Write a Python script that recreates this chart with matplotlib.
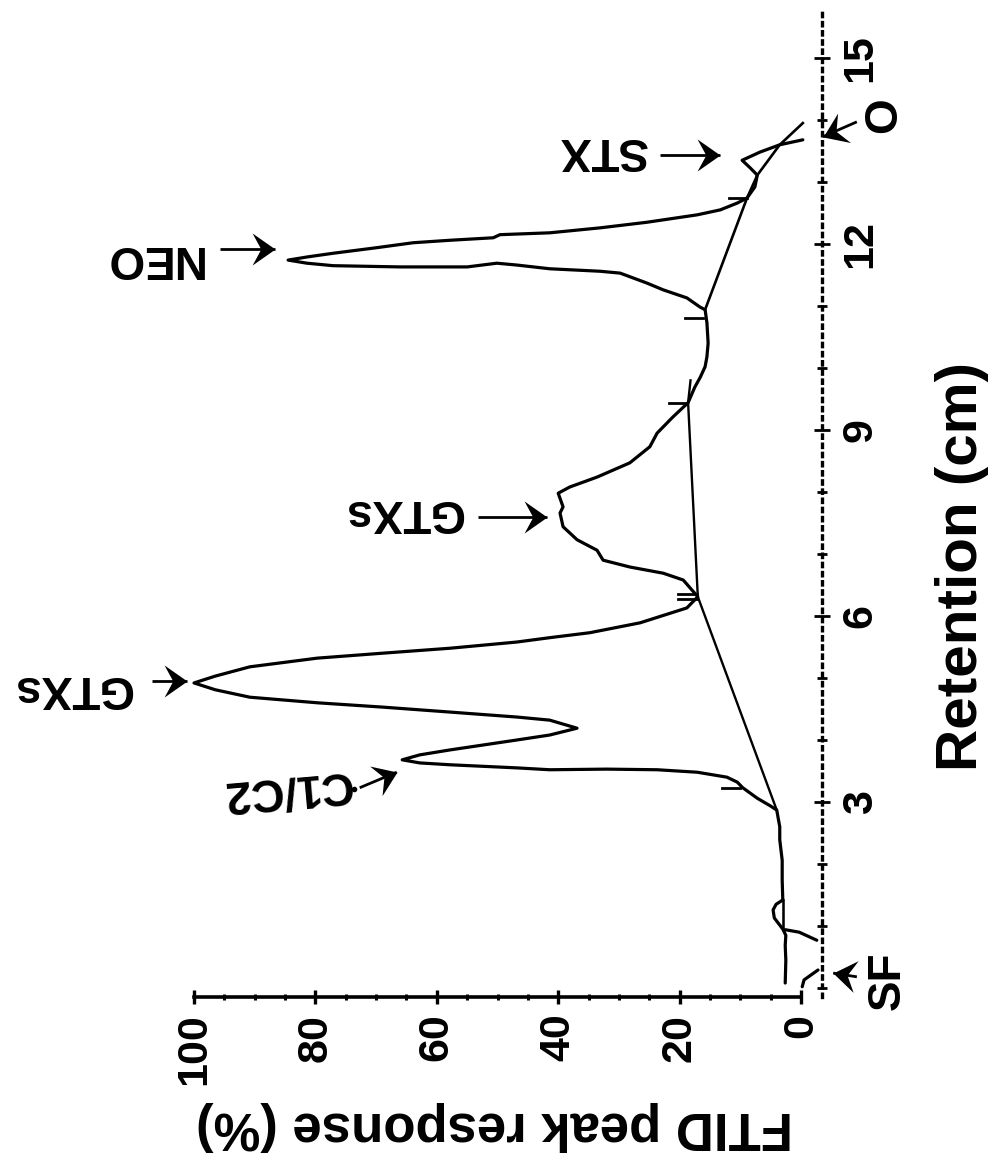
import matplotlib
matplotlib.use("Agg")
import matplotlib.pyplot as plt
from matplotlib.path import Path
from matplotlib.markers import MarkerStyle
from matplotlib.transforms import Affine2D
import numpy as np

plt.rcParams['font.family'] = ['Liberation Sans', 'DejaVu Sans']
plt.rcParams['font.weight'] = 'bold'

# FTID chromatogram trace: retention (cm) vs. peak response (%)
trace_ret = [0.08, 0.45, 0.69, 0.85, 0.95, 1.13, 1.26, 1.35, 1.42, 1.74, 2.06, 2.39,
             2.60, 2.87, 2.94, 3.06, 3.23, 3.32, 3.40, 3.48, 3.52, 3.53, 3.52, 3.55,
             3.60, 3.63, 3.68, 3.76, 3.84, 4.00, 4.08, 4.19, 4.32, 4.37, 4.45, 4.53,
             4.60, 4.69, 4.81, 4.92, 5.03, 5.18, 5.32, 5.40, 5.48, 5.58, 5.65, 5.73,
             5.89, 6.13, 6.31, 6.58, 6.69, 6.79, 6.90, 7.06, 7.23, 7.44, 7.66, 7.76,
             7.98, 8.08, 8.24, 8.47, 8.73, 8.95, 9.21, 9.44, 9.69, 9.85, 10.02, 10.18,
             10.40, 10.73, 10.94, 10.98, 11.13, 11.26, 11.37, 11.53, 11.56, 11.60, 11.66,
             11.69, 11.63, 11.63, 11.65, 11.69, 11.74, 11.79, 11.85, 11.94, 12.02, 12.06,
             12.10, 12.15, 12.18, 12.26, 12.35, 12.47, 12.55, 12.66, 12.74, 12.92, 13.11,
             13.23, 13.35, 13.48, 13.60, 13.68]
trace_resp = [2.6, 2.5, 2.6, 2.5, 3.0, 4.4, 4.6, 4.1, 3.0, 3.1, 3.1, 3.5,
              3.5, 4.0, 5.1, 7.2, 9.6, 10.5, 12.2, 17.1, 23.7, 32.0, 41.4, 46.8,
              57.8, 62.8, 65.7, 62.8, 57.8, 46.8, 41.4, 36.9, 41.4, 46.8, 57.8, 68.9,
              79.7, 90.8, 96.5, 100.0, 96.5, 90.8, 79.7, 68.9, 57.8, 46.8, 41.4, 34.8,
              26.5, 18.8, 17.0, 19.4, 22.7, 28.2, 32.6, 33.6, 36.9, 39.2, 39.7, 39.2,
              40.0, 38.1, 33.6, 28.2, 24.9, 23.7, 21.1, 18.6, 17.5, 16.6, 15.8, 15.5,
              15.3, 15.5, 15.8, 16.6, 18.8, 22.7, 25.4, 29.8, 33.1, 41.4, 46.8,
              50.1, 55.0, 66.1, 77.1, 81.4, 84.5, 81.4, 77.1, 69.9, 63.9, 57.8,
              50.7, 49.6, 41.4, 33.1, 25.4, 17.1, 13.3, 10.5, 8.9, 7.6, 7.2,
              8.4, 9.7, 6.8, 3.5, -0.3]

# solvent-front dip near injection
sf_ret = [0.02, 0.13, 0.20, 0.29]
sf_resp = [-0.2, -0.5, -1.5, -2.8]

# early rise joining the trace
rise_ret = [0.77, 0.90, 0.94]
rise_resp = [-2.6, 0.3, 2.6]

# straight segment under the small early bump
bump_ret = [0.95, 1.42]
bump_resp = [2.9, 2.9]

# integration baselines
base1_ret = [2.87, 6.31, 9.44, 9.80]
base1_resp = [4.0, 17.0, 18.6, 18.2]
base2_ret = [10.94, 12.74, 13.11, 13.60, 13.95]
base2_resp = [15.8, 8.9, 7.2, 3.5, -0.3]

# integration markers: retention and response where each starts
mark_ret = [3.23, 6.28, 6.36, 9.44, 10.80, 12.74]
mark_resp = [10.0, 17.2, 17.2, 18.8, 16.1, 8.9]
mark_len = 3.0

# axis ticks
resp_ticks = [0, 20, 40, 60, 80, 100]
resp_minor = list(range(0, 101, 5))
ret_ticks = [3, 6, 9, 12, 15]
ret_minor = list(range(0, 16))

fig = plt.figure(figsize=(9.93, 11.73), dpi=100)
ax = fig.add_axes([0, 0, 1, 1])
ax.set_xlim(131.96, -31.63)
ax.set_ylim(-2.984, 15.935)
ax.patch.set_alpha(0)

# axes: response axis solid, retention axis dotted
for side in ('top', 'left'):
    ax.spines[side].set_visible(False)
ax.spines['bottom'].set_position(('data', -0.145))
ax.spines['bottom'].set_bounds(0, 100)
ax.spines['bottom'].set_linewidth(2.6)
ax.spines['right'].set_position(('data', -3.45))
ax.spines['right'].set_bounds(-0.15, 15.75)
ax.spines['right'].set_linewidth(2.4)
ax.spines['right'].set_linestyle((0, (1, 1.75)))

ax.xaxis.set_ticks_position('bottom')
ax.set_xticks(resp_ticks)
ax.set_xticks(resp_minor, minor=True)
ax.tick_params(axis='x', which='major', direction='inout', length=10, width=2.4,
               pad=7, labelsize=31, labelrotation=90)
ax.tick_params(axis='x', which='minor', direction='inout', length=5, width=2.2)

ax.yaxis.set_ticks_position('right')
ax.set_yticks(ret_ticks)
ax.set_yticks(ret_minor, minor=True)
ax.tick_params(axis='y', which='major', direction='inout', length=11, width=2.0,
               pad=8, labelsize=31, labelrotation=90)
ax.tick_params(axis='y', which='minor', direction='inout', length=7, width=2.0)
plt.setp(ax.get_yticklabels(), va='center')

# chromatogram
lw = 2.3
ax.plot(trace_resp, trace_ret, color='black', lw=lw, solid_joinstyle='round',
        solid_capstyle='round')
ax.plot(sf_resp, sf_ret, color='black', lw=lw, solid_capstyle='round')
ax.plot(rise_resp, rise_ret, color='black', lw=lw, solid_capstyle='round')
ax.plot(bump_resp, bump_ret, color='black', lw=lw * 0.8)
ax.plot(base1_resp, base1_ret, color='black', lw=1.7)
ax.plot(base2_resp, base2_ret, color='black', lw=1.9)
for r, x in zip(mark_ret, mark_resp):
    ax.plot([x, x + mark_len], [r, r], color='black', lw=2.0)

# axis titles
ax.text(50.5, -2.0, 'FTID peak response (%)', rotation=180, rotation_mode='anchor',
        ha='center', va='baseline', fontsize=38)
ax.text(-29.0, 6.8, 'Retention (cm)', rotation=90, rotation_mode='anchor',
        ha='center', va='baseline', fontsize=42)

# swept-back arrowhead, tip at the origin
head = Path([(0, 0), (-1, 0.7), (-0.62, 0), (-1, -0.7), (0, 0)],
            [Path.MOVETO, Path.LINETO, Path.LINETO, Path.LINETO, Path.CLOSEPOLY])


def arrow(tail, tip, dot=False):
    ax.plot([tail[0], tip[0]], [tail[1], tip[1]], color='black', lw=2.0,
            solid_capstyle='butt')
    p0 = ax.transData.transform(tail)
    p1 = ax.transData.transform(tip)
    ang = np.degrees(np.arctan2(p1[1] - p0[1], p1[0] - p0[0]))
    m = MarkerStyle(head, transform=Affine2D().rotate_deg(ang))
    ax.plot([tip[0]], [tip[1]], marker=m, markersize=33, color='black',
            markeredgewidth=0, linestyle='none')
    if dot:
        ax.plot([tail[0] + 0.9], [tail[1] - 0.02], marker='o', markersize=3,
                color='black', linestyle='none')


def label(txt, pos, rot, tail, tip, size=33, dot=False):
    ax.text(pos[0], pos[1], txt, rotation=rot, rotation_mode='anchor',
            ha='center', va='baseline', fontsize=size)
    arrow(tail, tip, dot)


label('GTXs', (120.1, 5.03), 180, (106.9, 4.95), (101.2, 4.95))
label('C1/C2', (85.0, 3.40), 185, (72.7, 3.23), (66.6, 3.48), dot=True)
label('GTXs', (65.6, 7.87), 180, (53.2, 7.60), (41.8, 7.60))
label('NEO', (106.9, 11.97), 180, (95.7, 11.92), (86.7, 11.92))
label('STX', (32.8, 13.71), 180, (23.2, 13.44), (13.3, 13.44))
label('O', (-15.6, 14.08), 90, (-9.2, 13.97), (-3.6, 13.73))
label('SF', (-16.3, 0.11), 90, (-9.2, 0.18), (-5.3, 0.24))

fig.savefig('out.png', dpi=100, facecolor='white')
